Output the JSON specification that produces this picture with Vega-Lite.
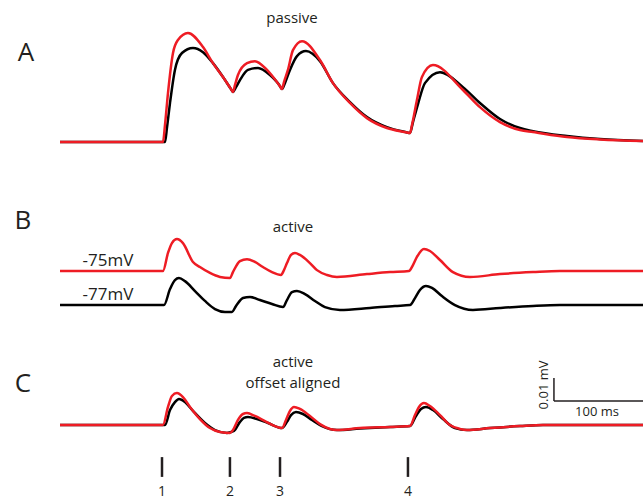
{
  "$schema": "https://vega.github.io/schema/vega-lite/v6.json",
  "width": 643,
  "height": 500,
  "padding": 0,
  "autosize": {"type": "none"},
  "config": {"view": {"stroke": null}, "text": {"font": "Open Sans", "color": "#231f20"}},
  "datasets": {
    "traces": [
      {"panel":"A","model":"test","t":-117.0,"v":162.7},{"panel":"A","model":"test","t":0,"v":162.7},{"panel":"A","model":"test","t":2.3,"v":170.5},{"panel":"A","model":"test","t":5.7,"v":185.0},{"panel":"A","model":"test","t":11.4,"v":203.2},{"panel":"A","model":"test","t":17.0,"v":209.1},{"panel":"A","model":"test","t":28.4,"v":212.3},{"panel":"A","model":"test","t":45.5,"v":205.9},{"panel":"A","model":"test","t":56.8,"v":198.6},{"panel":"A","model":"test","t":68.2,"v":192.3},{"panel":"A","model":"test","t":77.3,"v":186.8},{"panel":"A","model":"test","t":79.5,"v":185.5},{"panel":"A","model":"test","t":81.8,"v":188.6},{"panel":"A","model":"test","t":85.2,"v":193.2},{"panel":"A","model":"test","t":95.5,"v":198.6},{"panel":"A","model":"test","t":104.5,"v":199.5},{"panel":"A","model":"test","t":118.2,"v":195.5},{"panel":"A","model":"test","t":129.5,"v":190.0},{"panel":"A","model":"test","t":133.0,"v":188.1},{"panel":"A","model":"test","t":135.2,"v":186.8},{"panel":"A","model":"test","t":137.5,"v":190.0},{"panel":"A","model":"test","t":142.0,"v":195.5},{"panel":"A","model":"test","t":147.7,"v":204.5},{"panel":"A","model":"test","t":158.0,"v":208.6},{"panel":"A","model":"test","t":178.4,"v":200.0},{"panel":"A","model":"test","t":193.2,"v":189.5},{"panel":"A","model":"test","t":212.5,"v":180.5},{"panel":"A","model":"test","t":231.8,"v":173.6},{"panel":"A","model":"test","t":254.5,"v":169.1},{"panel":"A","model":"test","t":277.3,"v":167.1},{"panel":"A","model":"test","t":280.7,"v":166.8},{"panel":"A","model":"test","t":283.0,"v":170.5},{"panel":"A","model":"test","t":288.6,"v":181.8},{"panel":"A","model":"test","t":294.3,"v":192.3},{"panel":"A","model":"test","t":306.8,"v":197.7},{"panel":"A","model":"test","t":340.9,"v":186.4},{"panel":"A","model":"test","t":360.2,"v":178.6},{"panel":"A","model":"test","t":383.0,"v":171.8},{"panel":"A","model":"test","t":405.7,"v":168.2},{"panel":"A","model":"test","t":420.5,"v":167.3},{"panel":"A","model":"test","t":459.1,"v":165.0},{"panel":"A","model":"test","t":496.6,"v":163.9},{"panel":"A","model":"test","t":545.5,"v":163.2},

      {"panel":"A","model":"control","t":-117.0,"v":162.7},{"panel":"A","model":"control","t":2.3,"v":162.7},{"panel":"A","model":"control","t":4.5,"v":169.1},{"panel":"A","model":"control","t":8.0,"v":180.5},{"panel":"A","model":"control","t":13.6,"v":195.5},{"panel":"A","model":"control","t":21.6,"v":203.2},{"panel":"A","model":"control","t":34.1,"v":205.5},{"panel":"A","model":"control","t":45.5,"v":203.6},{"panel":"A","model":"control","t":56.8,"v":198.6},{"panel":"A","model":"control","t":68.2,"v":192.3},{"panel":"A","model":"control","t":77.3,"v":186.8},{"panel":"A","model":"control","t":79.5,"v":185.5},{"panel":"A","model":"control","t":83.0,"v":187.7},{"panel":"A","model":"control","t":87.5,"v":190.9},{"panel":"A","model":"control","t":96.6,"v":195.5},{"panel":"A","model":"control","t":108.0,"v":196.4},{"panel":"A","model":"control","t":121.6,"v":193.2},{"panel":"A","model":"control","t":129.5,"v":190.0},{"panel":"A","model":"control","t":133.0,"v":188.1},{"panel":"A","model":"control","t":135.2,"v":186.8},{"panel":"A","model":"control","t":138.6,"v":189.5},{"panel":"A","model":"control","t":144.3,"v":195.5},{"panel":"A","model":"control","t":152.3,"v":201.8},{"panel":"A","model":"control","t":162.5,"v":204.1},{"panel":"A","model":"control","t":178.4,"v":199.5},{"panel":"A","model":"control","t":193.2,"v":189.5},{"panel":"A","model":"control","t":212.5,"v":180.9},{"panel":"A","model":"control","t":231.8,"v":174.1},{"panel":"A","model":"control","t":254.5,"v":169.5},{"panel":"A","model":"control","t":277.3,"v":167.1},{"panel":"A","model":"control","t":280.7,"v":166.8},{"panel":"A","model":"control","t":284.1,"v":171.8},{"panel":"A","model":"control","t":289.8,"v":180.0},{"panel":"A","model":"control","t":297.7,"v":189.5},{"panel":"A","model":"control","t":314.8,"v":194.5},{"panel":"A","model":"control","t":340.9,"v":187.7},{"panel":"A","model":"control","t":360.2,"v":180.5},{"panel":"A","model":"control","t":383.0,"v":173.2},{"panel":"A","model":"control","t":405.7,"v":169.1},{"panel":"A","model":"control","t":420.5,"v":167.7},{"panel":"A","model":"control","t":459.1,"v":165.5},{"panel":"A","model":"control","t":496.6,"v":164.1},{"panel":"A","model":"control","t":545.5,"v":163.2},

      {"panel":"B","model":"test","t":-117.0,"v":104.1},{"panel":"B","model":"test","t":0,"v":104.1},{"panel":"B","model":"test","t":5.7,"v":112.3},{"panel":"B","model":"test","t":10.2,"v":116.8},{"panel":"B","model":"test","t":15.9,"v":118.6},{"panel":"B","model":"test","t":22.7,"v":116.8},{"panel":"B","model":"test","t":34.1,"v":108.2},{"panel":"B","model":"test","t":42.0,"v":105.9},{"panel":"B","model":"test","t":53.4,"v":103.2},{"panel":"B","model":"test","t":64.8,"v":101.4},{"panel":"B","model":"test","t":76.1,"v":100.9},{"panel":"B","model":"test","t":79.5,"v":103.6},{"panel":"B","model":"test","t":87.5,"v":108.6},{"panel":"B","model":"test","t":95.5,"v":109.5},{"panel":"B","model":"test","t":104.5,"v":108.2},{"panel":"B","model":"test","t":113.6,"v":105.9},{"panel":"B","model":"test","t":123.9,"v":103.6},{"panel":"B","model":"test","t":134.1,"v":102.3},{"panel":"B","model":"test","t":137.5,"v":104.5},{"panel":"B","model":"test","t":140.9,"v":107.7},{"panel":"B","model":"test","t":145.5,"v":111.4},{"panel":"B","model":"test","t":150.0,"v":112.3},{"panel":"B","model":"test","t":155.7,"v":111.4},{"panel":"B","model":"test","t":167.0,"v":107.7},{"panel":"B","model":"test","t":175.0,"v":104.5},{"panel":"B","model":"test","t":186.4,"v":102.3},{"panel":"B","model":"test","t":197.7,"v":101.4},{"panel":"B","model":"test","t":231.8,"v":102.7},{"panel":"B","model":"test","t":258.0,"v":103.6},{"panel":"B","model":"test","t":279.5,"v":104.1},{"panel":"B","model":"test","t":284.1,"v":106.8},{"panel":"B","model":"test","t":288.6,"v":110.5},{"panel":"B","model":"test","t":296.6,"v":114.1},{"panel":"B","model":"test","t":303.4,"v":113.2},{"panel":"B","model":"test","t":314.8,"v":109.1},{"panel":"B","model":"test","t":329.5,"v":103.6},{"panel":"B","model":"test","t":348.9,"v":101.4},{"panel":"B","model":"test","t":383.0,"v":102.7},{"panel":"B","model":"test","t":420.5,"v":103.6},{"panel":"B","model":"test","t":451.1,"v":104.1},{"panel":"B","model":"test","t":545.5,"v":104.1},

      {"panel":"B","model":"control","t":-117.0,"v":88.6},{"panel":"B","model":"control","t":1.1,"v":88.6},{"panel":"B","model":"control","t":8.0,"v":95.9},{"panel":"B","model":"control","t":13.6,"v":100.0},{"panel":"B","model":"control","t":18.2,"v":100.9},{"panel":"B","model":"control","t":25.0,"v":99.5},{"panel":"B","model":"control","t":36.4,"v":95.0},{"panel":"B","model":"control","t":47.7,"v":90.5},{"panel":"B","model":"control","t":59.1,"v":86.8},{"panel":"B","model":"control","t":70.5,"v":85.5},{"panel":"B","model":"control","t":78.4,"v":85.5},{"panel":"B","model":"control","t":83.0,"v":88.2},{"panel":"B","model":"control","t":90.9,"v":91.8},{"panel":"B","model":"control","t":98.9,"v":92.3},{"panel":"B","model":"control","t":110.2,"v":90.9},{"panel":"B","model":"control","t":123.9,"v":89.1},{"panel":"B","model":"control","t":136.4,"v":87.7},{"panel":"B","model":"control","t":140.9,"v":90.9},{"panel":"B","model":"control","t":146.6,"v":94.5},{"panel":"B","model":"control","t":152.3,"v":95.0},{"panel":"B","model":"control","t":161.4,"v":93.6},{"panel":"B","model":"control","t":172.7,"v":90.5},{"panel":"B","model":"control","t":184.1,"v":87.7},{"panel":"B","model":"control","t":201.1,"v":86.4},{"panel":"B","model":"control","t":235.2,"v":87.3},{"panel":"B","model":"control","t":263.6,"v":88.2},{"panel":"B","model":"control","t":280.7,"v":88.6},{"panel":"B","model":"control","t":286.4,"v":91.8},{"panel":"B","model":"control","t":292.0,"v":95.5},{"panel":"B","model":"control","t":298.9,"v":97.3},{"panel":"B","model":"control","t":305.7,"v":96.4},{"panel":"B","model":"control","t":317.0,"v":92.7},{"panel":"B","model":"control","t":331.8,"v":88.6},{"panel":"B","model":"control","t":352.3,"v":86.4},{"panel":"B","model":"control","t":383.0,"v":87.3},{"panel":"B","model":"control","t":420.5,"v":88.2},{"panel":"B","model":"control","t":451.1,"v":88.6},{"panel":"B","model":"control","t":545.5,"v":88.6},

      {"panel":"C","model":"test","t":-117.0,"v":34.1},{"panel":"C","model":"test","t":0,"v":34.1},{"panel":"C","model":"test","t":5.7,"v":42.3},{"panel":"C","model":"test","t":10.2,"v":47.3},{"panel":"C","model":"test","t":15.9,"v":48.6},{"panel":"C","model":"test","t":22.7,"v":46.8},{"panel":"C","model":"test","t":30.7,"v":42.3},{"panel":"C","model":"test","t":42.0,"v":36.8},{"panel":"C","model":"test","t":53.4,"v":32.7},{"panel":"C","model":"test","t":64.8,"v":30.9},{"panel":"C","model":"test","t":76.1,"v":30.5},{"panel":"C","model":"test","t":79.5,"v":31.8},{"panel":"C","model":"test","t":85.2,"v":36.4},{"panel":"C","model":"test","t":90.9,"v":39.1},{"panel":"C","model":"test","t":95.5,"v":39.5},{"panel":"C","model":"test","t":104.5,"v":38.2},{"panel":"C","model":"test","t":115.9,"v":35.9},{"panel":"C","model":"test","t":127.3,"v":33.6},{"panel":"C","model":"test","t":135.2,"v":32.7},{"panel":"C","model":"test","t":139.8,"v":36.4},{"panel":"C","model":"test","t":144.3,"v":40.5},{"panel":"C","model":"test","t":148.9,"v":42.3},{"panel":"C","model":"test","t":155.7,"v":41.4},{"panel":"C","model":"test","t":167.0,"v":38.2},{"panel":"C","model":"test","t":178.4,"v":34.5},{"panel":"C","model":"test","t":189.8,"v":32.3},{"panel":"C","model":"test","t":197.7,"v":31.8},{"panel":"C","model":"test","t":223.9,"v":32.7},{"panel":"C","model":"test","t":258.0,"v":33.2},{"panel":"C","model":"test","t":280.7,"v":33.6},{"panel":"C","model":"test","t":286.4,"v":38.6},{"panel":"C","model":"test","t":290.9,"v":42.3},{"panel":"C","model":"test","t":296.6,"v":44.1},{"panel":"C","model":"test","t":303.4,"v":42.7},{"panel":"C","model":"test","t":314.8,"v":38.6},{"panel":"C","model":"test","t":326.1,"v":34.1},{"panel":"C","model":"test","t":337.5,"v":32.3},{"panel":"C","model":"test","t":345.5,"v":31.8},{"panel":"C","model":"test","t":371.6,"v":32.7},{"panel":"C","model":"test","t":405.7,"v":33.6},{"panel":"C","model":"test","t":431.8,"v":34.1},{"panel":"C","model":"test","t":545.5,"v":34.1},

      {"panel":"C","model":"control","t":-117.0,"v":34.1},{"panel":"C","model":"control","t":2.3,"v":34.1},{"panel":"C","model":"control","t":8.0,"v":40.9},{"panel":"C","model":"control","t":13.6,"v":44.5},{"panel":"C","model":"control","t":18.2,"v":45.9},{"panel":"C","model":"control","t":25.0,"v":44.5},{"panel":"C","model":"control","t":34.1,"v":40.5},{"panel":"C","model":"control","t":47.7,"v":35.0},{"panel":"C","model":"control","t":59.1,"v":31.8},{"panel":"C","model":"control","t":72.7,"v":30.5},{"panel":"C","model":"control","t":80.7,"v":31.4},{"panel":"C","model":"control","t":87.5,"v":35.5},{"panel":"C","model":"control","t":92.0,"v":37.3},{"panel":"C","model":"control","t":96.6,"v":37.7},{"panel":"C","model":"control","t":106.8,"v":36.8},{"panel":"C","model":"control","t":119.3,"v":35.0},{"panel":"C","model":"control","t":135.2,"v":32.7},{"panel":"C","model":"control","t":140.9,"v":35.5},{"panel":"C","model":"control","t":145.5,"v":38.6},{"panel":"C","model":"control","t":151.1,"v":40.0},{"panel":"C","model":"control","t":159.1,"v":39.1},{"panel":"C","model":"control","t":169.3,"v":36.4},{"panel":"C","model":"control","t":180.7,"v":33.6},{"panel":"C","model":"control","t":197.7,"v":31.8},{"panel":"C","model":"control","t":223.9,"v":32.5},{"panel":"C","model":"control","t":258.0,"v":33.2},{"panel":"C","model":"control","t":280.7,"v":33.6},{"panel":"C","model":"control","t":287.5,"v":38.2},{"panel":"C","model":"control","t":293.2,"v":41.4},{"panel":"C","model":"control","t":298.9,"v":42.3},{"panel":"C","model":"control","t":306.8,"v":40.9},{"panel":"C","model":"control","t":318.2,"v":36.8},{"panel":"C","model":"control","t":331.8,"v":32.7},{"panel":"C","model":"control","t":345.5,"v":31.8},{"panel":"C","model":"control","t":371.6,"v":32.7},{"panel":"C","model":"control","t":405.7,"v":33.6},{"panel":"C","model":"control","t":431.8,"v":34.1},{"panel":"C","model":"control","t":545.5,"v":34.1}
    ],
    "events": [
      {"event":"1","t":-1.1},{"event":"2","t":76.1},{"event":"3","t":133.0},{"event":"4","t":278.4}
    ],
    "annotations": [
      {"role":"panel","label":"A","t":-155.7,"v":203.2},
      {"role":"panel","label":"B","t":-159.1,"v":126.8},
      {"role":"panel","label":"C","t":-159.1,"v":52.7},
      {"role":"title","label":"passive","t":146.6,"v":219.1},
      {"role":"title","label":"active","t":147.7,"v":124.1},
      {"role":"title","label":"active","t":147.7,"v":62.7},
      {"role":"title","label":"offset aligned","t":147.7,"v":53.2},
      {"role":"holding","label":"-75mV","t":-62.5,"v":108.6},
      {"role":"holding","label":"-77mV","t":-62.5,"v":93.2},
      {"role":"scalex","label":"100 ms","t":493.2,"v":40.2},
      {"role":"scaley","label":"0.01 mV","t":433.0,"v":52.3}
    ],
    "scalebar": [
      {"bar":"time","t":444.3,"t2":546.0,"v":45.0,"v2":45.0},
      {"bar":"voltage","t":444.3,"t2":444.3,"v":45.0,"v2":55.5}
    ]
  },
  "encoding": {
    "x": {"type": "quantitative", "scale": {"domain": [-185.2, 545.5], "nice": false, "zero": false}, "axis": null},
    "y": {"type": "quantitative", "scale": {"domain": [0, 227.3], "nice": false, "zero": false}, "axis": null}
  },
  "layer": [
    {
      "data": {"name": "traces"},
      "transform": [{"filter": "datum.model === 'control'"}],
      "mark": {"type": "line", "interpolate": "monotone", "strokeWidth": 2.5},
      "encoding": {
        "x": {"field": "t", "type": "quantitative"},
        "y": {"field": "v", "type": "quantitative"},
        "detail": {"field": "panel"},
        "color": {"field": "model", "type": "nominal", "scale": {"domain": ["control", "test"], "range": ["#000000", "#ee1c24"]}, "legend": null}
      }
    },
    {
      "data": {"name": "traces"},
      "transform": [{"filter": "datum.model === 'test'"}],
      "mark": {"type": "line", "interpolate": "monotone", "strokeWidth": 2.5},
      "encoding": {
        "x": {"field": "t", "type": "quantitative"},
        "y": {"field": "v", "type": "quantitative"},
        "detail": {"field": "panel"},
        "color": {"field": "model", "type": "nominal", "scale": {"domain": ["control", "test"], "range": ["#000000", "#ee1c24"]}, "legend": null}
      }
    },
    {
      "data": {"name": "events"},
      "mark": {"type": "rule", "strokeWidth": 2.5, "color": "#231f20"},
      "encoding": {
        "x": {"field": "t", "type": "quantitative"},
        "y": {"datum": 10.5},
        "y2": {"datum": 19.5}
      }
    },
    {
      "data": {"name": "events"},
      "mark": {"type": "text", "fontSize": 14, "baseline": "middle", "align": "center"},
      "encoding": {
        "x": {"field": "t", "type": "quantitative"},
        "y": {"datum": 3.8},
        "text": {"field": "event"}
      }
    },
    {
      "data": {"name": "scalebar"},
      "mark": {"type": "rule", "strokeWidth": 1.5, "color": "#231f20"},
      "encoding": {
        "x": {"field": "t", "type": "quantitative"},
        "x2": {"field": "t2"},
        "y": {"field": "v", "type": "quantitative"},
        "y2": {"field": "v2"}
      }
    },
    {
      "data": {"name": "annotations"},
      "transform": [{"filter": "datum.role === 'panel'"}],
      "mark": {"type": "text", "fontSize": 26, "baseline": "middle", "align": "center"},
      "encoding": {"x": {"field": "t", "type": "quantitative"}, "y": {"field": "v", "type": "quantitative"}, "text": {"field": "label"}}
    },
    {
      "data": {"name": "annotations"},
      "transform": [{"filter": "datum.role === 'title'"}],
      "mark": {"type": "text", "fontSize": 15, "baseline": "middle", "align": "center"},
      "encoding": {"x": {"field": "t", "type": "quantitative"}, "y": {"field": "v", "type": "quantitative"}, "text": {"field": "label"}}
    },
    {
      "data": {"name": "annotations"},
      "transform": [{"filter": "datum.role === 'holding'"}],
      "mark": {"type": "text", "fontSize": 17, "baseline": "middle", "align": "center"},
      "encoding": {"x": {"field": "t", "type": "quantitative"}, "y": {"field": "v", "type": "quantitative"}, "text": {"field": "label"}}
    },
    {
      "data": {"name": "annotations"},
      "transform": [{"filter": "datum.role === 'scalex'"}],
      "mark": {"type": "text", "fontSize": 13, "baseline": "middle", "align": "center"},
      "encoding": {"x": {"field": "t", "type": "quantitative"}, "y": {"field": "v", "type": "quantitative"}, "text": {"field": "label"}}
    },
    {
      "data": {"name": "annotations"},
      "transform": [{"filter": "datum.role === 'scaley'"}],
      "mark": {"type": "text", "fontSize": 13, "baseline": "middle", "align": "center", "angle": 270},
      "encoding": {"x": {"field": "t", "type": "quantitative"}, "y": {"field": "v", "type": "quantitative"}, "text": {"field": "label"}}
    }
  ]
}
